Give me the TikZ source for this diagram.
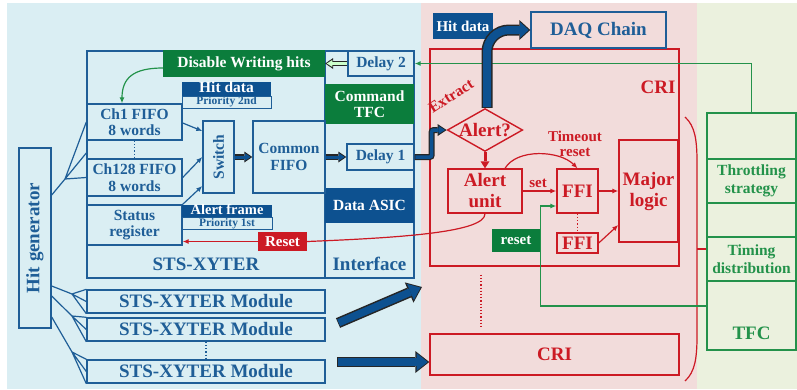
\documentclass[tikz,border=0pt]{standalone}
\usepackage{fontspec}
\setmainfont{Liberation Serif}
\usetikzlibrary{shapes.geometric,arrows.meta,calc}

\definecolor{stsblue}{HTML}{1F5E97}
\definecolor{deepblue}{HTML}{0D5190}
\definecolor{bgblue}{HTML}{DAEEF3}
\definecolor{bgpink}{HTML}{F2DCDB}
\definecolor{bggreen}{HTML}{EBF1DE}
\definecolor{crired}{HTML}{CC1A24}
\definecolor{tfcgreen}{HTML}{23924A}
\definecolor{dkgreen}{HTML}{0B7D3C}

\newcommand{\fmid}{\fontsize{15.5pt}{16.5pt}\selectfont\bfseries}
\newcommand{\fbig}{\fontsize{19pt}{21pt}\selectfont\bfseries}
\newcommand{\fsmall}{\fontsize{11.5pt}{12pt}\selectfont\bfseries}

\begin{document}
\begin{tikzpicture}[x=1pt, y=-1pt,
	sz/.style 2 args={minimum width=#1, minimum height=#2},
	bbox/.style={draw=stsblue, line width=1.4pt, text=stsblue, inner sep=0pt, align=center, font=\fmid},
	bfill/.style={fill=deepblue, text=white, inner sep=0pt, align=center, font=\fmid},
	gfill/.style={fill=dkgreen, text=white, inner sep=0pt, align=center, font=\fmid},
	rbox/.style={draw=crired, line width=1.4pt, text=crired, inner sep=0pt, align=center, font=\fbig},
	gbox/.style={draw=tfcgreen, line width=1.4pt, text=tfcgreen, inner sep=0pt, align=center,
		font={\fontsize{15.5pt}{18.5pt}\selectfont\bfseries}},
	bline/.style={draw=stsblue, line width=1.2pt},
	barrow/.style={bline, -{Latex[length=6pt,width=5pt]}},
	rline/.style={draw=crired, line width=1.2pt},
	rarrow/.style={rline, -{Latex[length=6pt,width=5pt]}},
	garrow/.style={draw=tfcgreen, line width=1.2pt, -{Latex[length=6pt,width=5pt]}},
	pipeo/.style n args={3}{draw=black!85, line width=#1, -{Triangle[width=#2,length=#3,line width=0pt]}},
	pipei/.style n args={3}{draw=deepblue, line width=#1, shorten >=1.6pt, shorten <=0.7pt,
		-{Triangle[width=#2,length=#3,line width=0pt]}},
	]
	\useasboundingbox (0,0) rectangle (797,389);
	\fill[bgblue] (7,3) rectangle (421,389);
	\fill[bgpink] (421,3) rectangle (697,389);
	\fill[bggreen] (697,3) rectangle (797,389);

	% STS-XYTER side
	\node[bbox, sz={238}{227}] (sts) at (206,164.5) {};
	\node[bbox, sz={89}{227}] (iface) at (369.5,164.5) {};
	\node[text=stsblue, font=\fbig] (ststxt) at (206,264) {STS-XYTER};
	\node[text=stsblue, font=\fbig] (ifacetxt) at (369.5,264) {Interface};

	\node[gfill, sz={162}{27}] (dis) at (244,63.5) {Disable Writing hits};
	\node[bbox, fill=bgblue, sz={66}{25}] (delay2) at (381,63.5) {Delay 2};
	\node[gfill, sz={89}{40}] (cmdtfc) at (369.5,104) {Command\\TFC};
	\node[bbox, fill=bgblue, sz={67}{26}] (delay1) at (380.5,157) {Delay 1};
	\node[bfill, sz={89}{35}] (dasic) at (369.5,205.5) {Data ASIC};

	\node[bbox, sz={95}{36}] (ch1) at (134.5,122) {Ch1 FIFO\\8 words};
	\node[bbox, sz={95}{37}] (ch128) at (134.5,177.5) {Ch128 FIFO\\8 words};
	\node[bbox, sz={95}{40}] (status) at (134.5,225) {Status\\register};
	\node[bfill, sz={89}{14}, text height=10pt, text depth=2.5pt] (hitlbl) at (226.5,89) {Hit data};
	\node[bbox, fill=bgblue, line width=1pt, sz={89}{12}, font=\fsmall, text height=8pt, text depth=2.5pt] (pri2) at (226.5,102) {Priority 2nd};
	\node[bfill, sz={90}{12.5}, text height=9pt, text depth=1.5pt,
		font={\fontsize{14.5pt}{15pt}\selectfont\bfseries}] (alertfr) at (227,211) {Alert frame};
	\node[bbox, fill=bgblue, line width=1pt, sz={90}{11.5}, font=\fsmall, text height=7.5pt, text depth=2.5pt] (pri1) at (227,223.5) {Priority 1st};
	\node[bbox, sz={72}{31}, rotate=90] (switch) at (218.5,157) {Switch};
	\node[bbox, sz={72}{72}] (cfifo) at (289,157) {Common\\FIFO};

	\node[bbox, sz={180}{32}, rotate=90, font=\fbig] (hitgen) at (35,238) {Hit generator};
	\node[bbox, sz={238}{23}, font=\fbig] (mod1) at (206,301.5) {STS-XYTER Module};
	\node[bbox, sz={238}{23}, font=\fbig] (mod2) at (206,329.5) {STS-XYTER Module};
	\node[bbox, sz={238}{23}, font=\fbig] (mod3) at (206,371.5) {STS-XYTER Module};

	\draw[bline, dotted] (ch1.south) -- (ch128.north);
	\draw[bline, dotted] (mod2.south) -- (mod3.north);

	\coordinate (ftop) at (65,179);
	\coordinate (fm1) at (72,294);
	\coordinate (fm2) at (72,316);
	\coordinate (fm3) at (72,352);
	\draw[bline] (hitgen.south |- 0,195) -- (ftop);
	\draw[bline] (ftop) -- (ch1.west) (ftop) -- (ch1.west |- 0,153) (ftop) -- (ch128.west);
	\draw[bline] (hitgen.south |- 0,286) -- (fm1);
	\draw[bline] (fm1) -- (mod1.north west) (fm1) -- (mod1.west) (fm1) -- (mod1.south west);
	\draw[bline] (hitgen.south |- 0,296) -- (fm2);
	\draw[bline] (fm2) -- (mod2.north west) (fm2) -- (mod2.west) (fm2) -- (mod2.south west);
	\draw[bline] (hitgen.south |- 0,317) -- (fm3);
	\draw[bline] (fm3) -- (mod3.north west) (fm3) -- (mod3.west) (fm3) -- (mod3.south west);

	\draw[barrow] ([yshift=-1pt]ch1.east) -- ([yshift=26pt]switch.north);
	\draw[barrow] (ch128.east) -- (switch.north);
	\draw[barrow] (status.north east) -- ([yshift=-29pt]switch.north);

	% CRI side
	\node[rbox, sz={249}{217}] (cri) at (554.5,157.5) {};
	\node[text=crired, font=\fbig] (critxt) at (658,87) {CRI};
	\node[bfill, sz={60}{26}, font={\fontsize{15pt}{15pt}\selectfont\bfseries}] (hitcri) at (463,26) {Hit data};
	\node[bbox, sz={135}{36}, font=\fbig] (daq) at (598.5,30) {DAQ Chain};
	\node[rbox, shape=diamond, shape aspect=1.76, sz={74}{42}] (alert) at (485,130) {Alert?};
	\node[text=crired, font=\fmid, rotate=33] (extract) at (451,96) {Extract};
	\node[rbox, sz={74}{44}] (alertu) at (485,191) {Alert\\unit};
	\node[rbox, sz={41}{44}] (ffi1) at (577.5,191) {FFI};
	\node[rbox, sz={41}{20}] (ffi2) at (577.5,243) {FFI};
	\node[rbox, sz={59}{102}] (major) at (648.5,191) {Major\\logic};
	\node[text=crired, align=center, font={\fontsize{15pt}{15pt}\selectfont\bfseries}] (tmo) at (575,144) {Timeout\\reset};
	\node[text=crired, font={\fontsize{15pt}{15pt}\selectfont\bfseries}] (settxt) at (538,183) {set};
	\node[gfill, sz={48}{23}, font={\fontsize{15pt}{15pt}\selectfont\bfseries}] (greset) at (516,240.5) {reset};
	\node[fill=crired, text=white, inner sep=0pt, sz={49}{19}, font={\fontsize{15pt}{15pt}\selectfont\bfseries}] (rreset) at (282.5,241.5) {Reset};
	\node[rbox, sz={249}{41}] (cri2) at (554.5,354.5) {CRI};

	\draw[rline, line width=3pt, -{Triangle[length=7pt,width=9pt,line width=0pt]}] (alert.south) -- (alertu.north);
	\draw[rarrow] (alertu.east) -- (ffi1.west);
	\draw[rarrow] (ffi1.east) -- (major.west);
	\draw[rarrow] (ffi2.east) -- ([yshift=-34pt]major.west);
	\draw[rline, dotted] (ffi1.south) -- (ffi2.north);
	\draw[rarrow] ([xshift=20pt]alertu.north) .. controls +(12,-20) and +(-18,-18) .. (ffi1.north);
	\draw[rline] (alertu.south) .. controls +(0,18) and +(100,-4) .. (rreset.east);
	\draw[rarrow] (rreset.west) -- (status.east |- rreset.west);
	\draw[rline, dotted] ($(cri.south)+(-73.5,8)$) -- ($(cri2.north)+(-73.5,-6)$);
	\draw[rline] (685,117) .. controls (695,126) and (697,140) .. (697,162) -- (697,336)
		.. controls (697,358) and (695,372) .. (685,381);

	% TFC side
	\node[gbox, sz={89}{46}] (tfc0) at (751.5,136) {};
	\node[gbox, sz={89}{44}] (throttle) at (751.5,181) {Throttling\\strategy};
	\node[gbox, sz={89}{34}] (tfc2) at (751.5,220) {};
	\node[gbox, sz={89}{44}] (timing) at (751.5,259) {Timing\\distribution};
	\node[gbox, sz={89}{69}] (tfcb) at (751.5,315.5) {};
	\node[text=tfcgreen, font=\fbig] (tfctxt) at (751.5,333) {TFC};

	\draw[rline] (697,249) -- (timing.west |- 0,249);
	\draw[garrow] (tfc0.north) |- (delay2.east);
	\coordinate (ffiin) at ([yshift=-15pt]ffi1.west);
	\draw[garrow] (tfcb.west |- 0,306) -| (greset.east |- ffiin) -- (ffiin);
	\draw[garrow] ([yshift=-4.5pt]dis.west) .. controls +(-30,0) and +(0,-25) .. ([xshift=-12.5pt]ch1.north);

	% fat arrows
	\draw[draw=black!85, line width=4.6pt, -{Triangle[width=11pt,length=8pt,line width=0pt]}] (delay2.west) -- (dis.east);
	\draw[draw=green!20!white, line width=2.2pt, shorten >=1.6pt, shorten <=0.7pt,
		-{Triangle[width=7pt,length=5.5pt,line width=0pt]}] (delay2.west) -- (dis.east);

	\draw[pipeo={5.5pt}{11pt}{8pt}] (switch.south) -- (cfifo.west);
	\draw[pipei={3pt}{7.5pt}{5.8pt}] (switch.south) -- (cfifo.west);
	\draw[pipeo={5.5pt}{11pt}{8pt}] (cfifo.east) -- (delay1.west);
	\draw[pipei={3pt}{7.5pt}{5.8pt}] (cfifo.east) -- (delay1.west);
	\draw[pipeo={6pt}{12pt}{9pt}, rounded corners=2pt] (delay1.east) -- ++(17,0) |- (alert.west);
	\draw[pipei={3.5pt}{8pt}{6.5pt}, rounded corners=2pt] (delay1.east) -- ++(17,0) |- (alert.west);
	\draw[pipeo={11pt}{20pt}{11pt}, rounded corners=22pt] ([xshift=2pt]alert.north) |- (daq.west);
	\draw[pipei={8pt}{15.5pt}{8.5pt}, rounded corners=22pt] ([xshift=2pt]alert.north) |- (daq.west);

	\coordinate (d1s) at (338,323);
	\coordinate (d1e) at (422,287);
	\coordinate (d2s) at (337,362);
	\coordinate (d2e) at ([yshift=-7.5pt]cri2.west);
	\draw[pipeo={10.5pt}{22pt}{14pt}] (d1s) -- (d1e);
	\draw[pipei={7.5pt}{17.5pt}{11pt}] (d1s) -- (d1e);
	\draw[pipeo={10.5pt}{22pt}{14pt}] (d2s) -- (d2e);
	\draw[pipei={7.5pt}{17.5pt}{11pt}] (d2s) -- (d2e);
\end{tikzpicture}
\end{document}
